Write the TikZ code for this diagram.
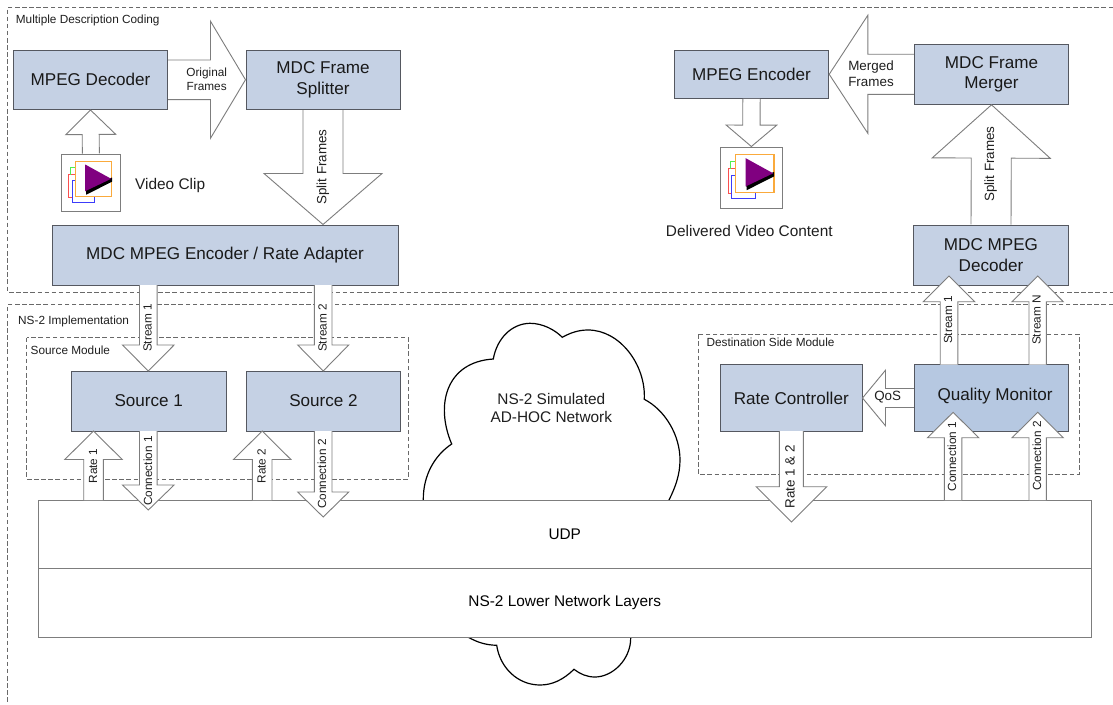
\documentclass[tikz,border=0pt]{standalone}
\usepackage{fontspec}
\setmainfont{Liberation Sans}
\usetikzlibrary{calc}
\definecolor{boxfill}{RGB}{197,209,228}
\definecolor{qmfill}{RGB}{182,200,225}
\definecolor{boxline}{RGB}{85,88,96}
\definecolor{arrline}{RGB}{125,125,125}
\definecolor{frameline}{RGB}{105,105,105}
\definecolor{icoorange}{RGB}{250,170,60}
\definecolor{icogreen}{RGB}{80,240,80}
\definecolor{icored}{RGB}{250,80,80}
\definecolor{icoblue}{RGB}{60,60,250}
\definecolor{icopurple}{RGB}{128,0,128}
\newcommand{\bigtxt}{\fontsize{17.1}{20.5}\selectfont}
\newcommand{\midtxt}{\fontsize{15.4}{18.3}\selectfont}
\newcommand{\smalltxt}{\fontsize{11.8}{15}\selectfont}
\newcommand{\largetxt}{\fontsize{13.4}{16}\selectfont}
% block arrow: from, to, half shaft, half head, head length
\newcommand{\blockarrow}[5]{%
  \coordinate (bh) at ($(#2)!#5pt!(#1)$);
  \draw[blockline]
    ($(#1)!#3pt!90:(#2)$) -- ($(bh)!#3pt!90:(#2)$) -- ($(bh)!#4pt!90:(#2)$) -- (#2)
    -- ($(bh)!#4pt!-90:(#2)$) -- ($(bh)!#3pt!-90:(#2)$) -- ($(#1)!#3pt!-90:(#2)$);
}
\newcommand{\videoicon}[2]{%
  \begin{scope}[shift={(#1.north west)},scale=#2]
    \draw[icored,line width=1pt] (7.6,21) rectangle (20,44);
    \draw[icogreen,line width=1pt] (9.6,21) -- (9.6,14) -- (20,14);
    \draw[icoblue,line width=1pt,fill=white] (11,27.3) rectangle (33,49.3);
    \draw[icoorange,line width=1.1pt,fill=white] (14.4,7.7) rectangle (50.7,43.3);
    \fill[black] (24.6,35) -- (50.8,24) -- (50.8,28.2) -- (25,41.2) -- cycle;
    \fill[icopurple] (24,11) -- (50,25.3) -- (24,37.7) -- cycle;
  \end{scope}%
}
\tikzset{
  x=1pt,y=-1pt,
  boxnode/.style={draw=boxline,fill=boxfill,line width=1pt,inner sep=0pt,align=center,font=\bigtxt,text=black!90},
  layer/.style={draw=arrline,fill=white,line width=1pt,inner sep=0pt,font=\midtxt},
  iconbox/.style={draw=arrline,fill=white,line width=1pt,inner sep=0pt},
  blockline/.style={draw=arrline,fill=white,line width=.9pt,line join=miter},
  framed/.style={draw=frameline,line width=.7pt,dash pattern=on 4.5pt off 2.6pt},
  lab/.style={inner sep=0pt,font=\smalltxt,align=center,text=black!88},
  labl/.style={lab,font=\largetxt},
  vlab/.style={lab,rotate=90},
  vlabl/.style={labl,rotate=90},
  capt/.style={inner sep=0pt,font=\midtxt,align=center,text=black!88},
}
\begin{document}
\begin{tikzpicture}
\useasboundingbox (0,0) rectangle (1113,704);
\fill[white] (0,0) rectangle (1113,704);

% frames
\draw[framed] (1113,7.5) -- (7.5,7.5) -- (7.5,292) -- (1113,292);
\draw[framed] (1113,304.7) -- (7.5,304.7) -- (7.5,704);
\draw[framed] (26.5,337.5) rectangle (408,479);
\draw[framed] (698.3,334.3) rectangle (1079,474.3);
\node[lab,anchor=west] (ftop) at (15.7,20) {Multiple Description Coding};
\node[lab,anchor=west] (fns) at (18,321) {NS-2 Implementation};
\node[lab,anchor=west] (fsrc) at (30.5,350) {Source Module};
\node[lab,anchor=west] (fdst) at (706.4,342.7) {Destination Side Module};

% cloud
\draw[black,line width=1.2pt,fill=white] (423.3,500)
  .. controls (423,475) and (435,455) .. (451.7,444)
  .. controls (435,405) and (446,362) .. (493.3,359)
  .. controls (497,338) and (512,323.5) .. (530,323.3)
  .. controls (543,323.3) and (555,330) .. (562.3,337.3)
  .. controls (570,333) and (578,330) .. (588,330)
  .. controls (620,330) and (646,365) .. (644.3,399.3)
  .. controls (665,410) and (680,435) .. (680,460)
  .. controls (680,475) and (675,488) .. (669,500)
  -- (630.7,637.3)
  .. controls (631,660) and (612,677) .. (595,677)
  .. controls (587,677) and (580,674) .. (574,669.3)
  .. controls (563,680) and (552,685) .. (540,685)
  .. controls (518,685) and (500,668) .. (496.7,645.3)
  .. controls (485,645) and (477,642) .. (468.3,637.3)
  -- cycle;
\node[capt] (cloud) at (551.3,407.5) {NS-2 Simulated\\[-.3pt]AD-HOC Network};

% layers
\node[layer,minimum width=1053.5pt,minimum height=68.5pt] (udp) at (564.75,534.25) {UDP};
\node[layer,minimum width=1053.5pt,minimum height=69pt] (lower) at (564.75,603) {NS-2 Lower Network Layers};

% boxes
\node[boxnode,minimum width=154pt,minimum height=59.5pt] (mdec) at (90.5,79.75) {MPEG Decoder};
\node[boxnode,minimum width=154pt,minimum height=59.5pt] (split) at (323,79.75) {MDC Frame\\Splitter};
\node[boxnode,minimum width=346pt,minimum height=60pt] (enc) at (225,255) {MDC MPEG Encoder / Rate Adapter};
\node[boxnode,minimum width=154.5pt,minimum height=60pt] (src1) at (148.75,401) {Source 1};
\node[boxnode,minimum width=154pt,minimum height=60pt] (src2) at (323.5,401) {Source 2};
\node[boxnode,minimum width=154.4pt,minimum height=48pt] (menc) at (751.5,74.3) {MPEG Encoder};
\node[boxnode,minimum width=154.4pt,minimum height=60pt] (merge) at (991.5,74.3) {MDC Frame\\Merger};
\node[boxnode,minimum width=154.6pt,minimum height=60pt] (mddec) at (991,255) {MDC MPEG\\Decoder};
\node[boxnode,minimum width=141.5pt,minimum height=66.6pt] (rate) at (791.25,398) {Rate Controller};
\node[boxnode,fill=qmfill,minimum width=154.1pt,minimum height=67pt] (qm) at (991.5,398) {};
\node[inner sep=0pt,font=\bigtxt,text=black!90] (qmt) at (995,396) {Quality Monitor};

% icon boxes
\node[iconbox,minimum width=58.3pt,minimum height=57.7pt] (vid1) at (90.85,182.85) {};
\node[iconbox,minimum width=61.3pt,minimum height=61.3pt] (vid2) at (751.35,177.65) {};
\videoicon{vid1}{1}
\videoicon{vid2}{1.06}
\node[capt,anchor=west] (vclip) at (135,186) {Video Clip};
\node[capt] (vdel) at (749.3,230.7) {Delivered Video Content};

% named free ends
\coordinate (a1) at (mdec.east);
\coordinate (a2) at (split.west);
\coordinate (s1top) at (148.3,285);
\coordinate (s1tip) at (148.3,371);
\coordinate (s2top) at (323.2,285);
\coordinate (s2tip) at (323.2,371);
\coordinate (r1a) at (93.5,500);
\coordinate (r1b) at (93.5,431);
\coordinate (r2a) at (262.2,500);
\coordinate (r2b) at (262.2,431);
\coordinate (c1a) at (148.3,431);
\coordinate (c1b) at (148.3,510);
\coordinate (c2a) at (323.2,431);
\coordinate (c2b) at (323.2,517);
\coordinate (r12a) at (791.4,431);
\coordinate (r12b) at (791.4,522);
\coordinate (cu1a) at (953.1,500);
\coordinate (cu1b) at (953.1,412.3);
\coordinate (cu2a) at (1037.7,500);
\coordinate (cu2b) at (1037.7,412.3);
\coordinate (su1a) at (949,364.5);
\coordinate (su1b) at (949,276);
\coordinate (suna) at (1037.7,364.5);
\coordinate (sunb) at (1037.7,276);

% block arrows
\blockarrow{a1}{a2}{19.8}{58.5}{35}
\blockarrow{vid1.north}{mdec.south}{8.5}{25}{24.5}
\blockarrow{split.south}{enc.north -| split.south}{20}{59}{51}
\blockarrow{s1top}{s1tip}{8.8}{25.8}{26}
\blockarrow{s2top}{s2tip}{8.8}{25.5}{26}
\blockarrow{r1a}{r1b}{9.8}{28.7}{28.5}
\blockarrow{c1a}{c1b}{8.8}{25.8}{25}
\blockarrow{r2a}{r2b}{9.8}{28.7}{28.5}
\blockarrow{c2a}{c2b}{8.8}{25.5}{25}
\blockarrow{r12a}{r12b}{12}{35.3}{35.3}
\blockarrow{qm.west}{rate.east}{9.5}{27.8}{23}
\blockarrow{cu1a}{cu1b}{8.7}{25.6}{25.4}
\blockarrow{cu2a}{cu2b}{8.7}{25.6}{25.4}
\blockarrow{su1a}{su1b}{8.8}{25.7}{25.7}
\blockarrow{suna}{sunb}{8.7}{25.6}{25.7}
\blockarrow{mddec.north}{merge.south}{20}{59}{53.3}
\blockarrow{merge.west}{menc.east}{20.1}{59}{38.6}
\blockarrow{menc.south}{vid2.north}{8.7}{25.3}{21.4}

% arrow labels
\node[lab] (lorig) at (206.7,79) {Original\\[-.6pt]Frames};
\node[labl] (lmerg) at (871,74) {Merged\\Frames};
\node[vlabl] (lsp1) at (323,167) {Split Frames};
\node[vlabl] (lsp2) at (990.7,164) {Split Frames};
\node[vlab] (lst1) at (147.5,328) {Stream 1};
\node[vlab] (lst2) at (322.5,328) {Stream 2};
\node[vlab] (lcn1) at (148,471) {Connection 1};
\node[vlab] (lcn2) at (322,474) {Connection 2};
\node[vlab] (lrt1) at (93,466) {Rate 1};
\node[vlab] (lrt2) at (261.5,466) {Rate 2};
\node[vlabl] (lr12) at (790,476.7) {Rate 1 \& 2};
\node[vlab] (lcu1) at (952,456.7) {Connection 1};
\node[vlab] (lcu2) at (1037,456) {Connection 2};
\node[vlab] (lsu1) at (948,320) {Stream 1};
\node[vlab] (lsun) at (1036.5,320) {Stream N};
\node[labl] (lqos) at (887.7,397) {QoS};
\end{tikzpicture}
\end{document}
